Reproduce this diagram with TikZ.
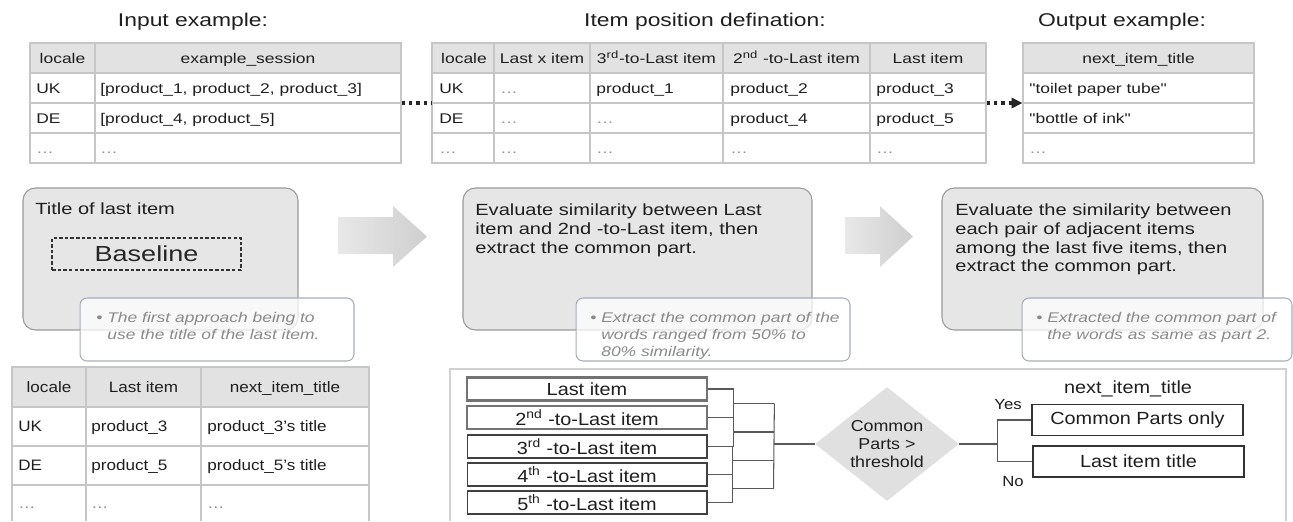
\documentclass[tikz,border=0pt]{standalone}
\usepackage{fontspec}
\setmainfont[FakeStretch=1.13]{Liberation Sans}
\newfontfamily\widefont[FakeStretch=1.24]{Liberation Sans}
\usetikzlibrary{shapes.geometric,arrows.meta,fit,calc}
\definecolor{hdrgray}{HTML}{E2E2E2}
\definecolor{gridgray}{HTML}{C6C6C6}
\definecolor{boxgray}{HTML}{E6E6E6}
\definecolor{edgegray}{HTML}{9A9A9A}
\definecolor{notegray}{HTML}{8A8A8A}
\definecolor{noteedge}{HTML}{A4AEBB}
\definecolor{inkgray}{HTML}{1E1E1E}

\begin{document}
\begin{tikzpicture}[x=0.02cm, y=-0.02cm,
		title/.style={font=\widefont\fontsize{10.5}{12}\selectfont, text=inkgray},
		cell/.style={font=\widefont\fontsize{8}{9.6}\selectfont, text=inkgray, inner sep=0, text height=1.5ex, text depth=.25ex},
		cellb/.style={cell, font=\fontsize{8.6}{10}\selectfont},
		dim/.style={text=black!45},
		grid/.style={draw=gridgray, line width=0.6pt},
		tbl/.style={inner sep=0, draw=gridgray, line width=0.6pt},
		dotl/.style={line width=2pt, dash pattern=on 2pt off 2.2pt, black!85},
		bigbox/.style={rectangle, rounded corners=7pt, draw=edgegray, fill=boxgray, line width=0.6pt, inner sep=0},
		note/.style={rectangle, rounded corners=4pt, draw=noteedge, fill=white, fill opacity=0.75, line width=0.6pt, inner sep=0, minimum height=1.26cm},
		notetext/.style={font=\widefont\fontsize{8}{9.6}\selectfont\itshape, text=notegray, align=left, anchor=north west, inner sep=0},
		boxtext/.style={font=\widefont\fontsize{9.2}{10.8}\selectfont, text=inkgray, align=left, anchor=north west, inner sep=0},
		dashbox/.style={rectangle, draw=black!80, dash pattern=on 2pt off 1.2pt, line width=0.6pt, minimum width=3.78cm, minimum height=0.64cm, font=\widefont\fontsize{12.4}{14}\selectfont, text=black!85},
		bigarrow/.style={left color=black!9, right color=black!19, draw=none},
		item/.style={rectangle, draw=black!75, line width=0.6pt, fill=white, minimum width=4.8cm, minimum height=0.46cm, inner sep=0, font=\fontsize{10}{12}\selectfont, text=inkgray},
		itemhl/.style={item, draw=black!55, line width=1.6pt},
		result/.style={rectangle, draw=black!80, line width=0.7pt, minimum width=4.22cm, minimum height=0.62cm, inner sep=0, font=\fontsize{10}{12}\selectfont, text=inkgray},
		dia/.style={diamond, fill=black!12, draw=none, minimum width=2.88cm, minimum height=2.28cm, inner sep=0},
		diatext/.style={font=\fontsize{9}{10.4}\selectfont, align=center, text=inkgray, inner sep=0},
		wire/.style={draw=black!65, line width=0.6pt},
		small/.style={font=\fontsize{8.4}{10}\selectfont, text=inkgray, inner sep=0}]
		\useasboundingbox (0,0) rectangle (1293,521);

		% top tables
		\node[title] (ti1) at (193,22) {Input example:};
		\node[title] (ti2) at (705,22) {Item position defination:};
		\node[title] (ti3) at (1122,22) {Output example:};

		\fill[hdrgray] (30,43) rectangle (401,73);
		\node[tbl, fit={(30,43) (401,163)}] (tin) {};
		\draw[grid] (30,73) -- (401,73) (30,103) -- (401,103) (30,133) -- (401,133) (95,43) -- (95,163);
		\node[cell] (in1) at (62.5,58) {locale};
		\node[cell] (in2) at (248,58) {example\_session};
		\node[cell, anchor=west] (in3) at (36,88) {UK};
		\node[cell, anchor=west] (in4) at (100,88) {[product\_1, product\_2, product\_3]};
		\node[cell, anchor=west] (in5) at (36,118) {DE};
		\node[cell, anchor=west] (in6) at (100,118) {[product\_4, product\_5]};
		\node[cell, anchor=west, dim] (in7) at (36,148) {\dots};
		\node[cell, anchor=west, dim] (in8) at (100,148) {\dots};

		\fill[hdrgray] (432,43) rectangle (986,73);
		\node[tbl, fit={(432,43) (986,163)}] (tpos) {};
		\draw[grid] (432,73) -- (986,73) (432,103) -- (986,103) (432,133) -- (986,133)
			(494,43) -- (494,163) (590,43) -- (590,163) (723,43) -- (723,163) (870,43) -- (870,163);
		\node[cell] (ps1) at (464,58) {locale};
		\node[cell] (ps2) at (542,58) {Last x item};
		\node[cell] (ps3) at (656.5,58) {3\textsuperscript{rd}-to-Last item};
		\node[cell] (ps4) at (796.5,58) {2\textsuperscript{nd} -to-Last item};
		\node[cell] (ps5) at (928,58) {Last item};
		\node[cell, anchor=west] (ps6) at (439,88) {UK};
		\node[cell, anchor=west, dim] (ps7) at (500,88) {\dots};
		\node[cell, anchor=west] (ps8) at (596,88) {product\_1};
		\node[cell, anchor=west] (ps9) at (730,88) {product\_2};
		\node[cell, anchor=west] (ps10) at (876,88) {product\_3};
		\node[cell, anchor=west] (ps11) at (439,118) {DE};
		\node[cell, anchor=west, dim] (ps12) at (500,118) {\dots};
		\node[cell, anchor=west, dim] (ps13) at (596,118) {\dots};
		\node[cell, anchor=west] (ps14) at (730,118) {product\_4};
		\node[cell, anchor=west] (ps15) at (876,118) {product\_5};
		\node[cell, anchor=west, dim] (ps16) at (439,148) {\dots};
		\node[cell, anchor=west, dim] (ps17) at (500,148) {\dots};
		\node[cell, anchor=west, dim] (ps18) at (596,148) {\dots};
		\node[cell, anchor=west, dim] (ps19) at (730,148) {\dots};
		\node[cell, anchor=west, dim] (ps20) at (876,148) {\dots};

		\fill[hdrgray] (1023,43) rectangle (1254,73);
		\node[tbl, fit={(1023,43) (1254,163)}] (tout) {};
		\draw[grid] (1023,73) -- (1254,73) (1023,103) -- (1254,103) (1023,133) -- (1254,133);
		\node[cell] (ou1) at (1138.5,58) {next\_item\_title};
		\node[cell, anchor=west] (ou2) at (1029,88) {\symbol{34}toilet paper tube\symbol{34}};
		\node[cell, anchor=west] (ou3) at (1029,118) {\symbol{34}bottle of ink\symbol{34}};
		\node[cell, anchor=west, dim] (ou4) at (1029,148) {\dots};

		\path (tin) edge[dotl] (tpos);
		\path (tpos) edge[dotl, -{Triangle[length=6.2pt, width=5.8pt]}] (tout);

		% three approaches
		\node[bigbox, fit={(23,188) (298,330)}] (b1) {};
		\node[boxtext, anchor=west] (b1t) at (35,209) {Title of last item};
		\node[dashbox] (base) at (146.5,254) {Baseline};
		\node[note, minimum width=5.48cm] (n1) at (217,329.5) {};
		\node[notetext] (n1t) at (107,312) {\llap{•\ }The first approach being to\\use the title of the last item.};

		\shade[bigarrow] (338,217) -- (393,217) -- (393,206) -- (427,236.5) -- (393,267) -- (393,254) -- (338,254) -- cycle;

		\node[bigbox, fit={(463,188) (812,330)}] (b2) {};
		\node[boxtext] (b2t) at (475,203) {Evaluate similarity between Last\\item and 2nd -to-Last item, then\\extract the common part.};
		\node[note, minimum width=5.48cm] (n2) at (713,329.5) {};
		\node[notetext] (n2t) at (601,312) {\llap{•\ }Extract the common part of the\\words ranged from 50\% to\\80\% similarity.};

		\shade[bigarrow] (845,217) -- (880,217) -- (880,206) -- (913,236.5) -- (880,267) -- (880,254) -- (845,254) -- cycle;

		\node[bigbox, fit={(942,188) (1263,330)}] (b3) {};
		\node[boxtext] (b3t) at (955,203) {Evaluate the similarity between\\each pair of adjacent items\\among the last five items, then\\extract the common part.};
		\node[note, minimum width=5.4cm] (n3) at (1157,329.5) {};
		\node[notetext] (n3t) at (1047,312) {\llap{•\ }Extracted the common part of\\the words as same as part 2.};

		% baseline result table
		\fill[hdrgray] (12,367) rectangle (369,407);
		\draw[grid] (12,521) -- (12,367) -- (369,367) -- (369,521);
		\draw[grid] (12,407) -- (369,407) (12,446) -- (369,446) (12,485) -- (369,485) (86,367) -- (86,521) (201,367) -- (201,521);
		\node[cellb] (bl1) at (49,387) {locale};
		\node[cellb] (bl2) at (143.5,387) {Last item};
		\node[cellb] (bl3) at (285,387) {next\_item\_title};
		\node[cellb, anchor=west] (bl4) at (18,426) {UK};
		\node[cellb, anchor=west] (bl5) at (91,426) {product\_3};
		\node[cellb, anchor=west] (bl6) at (207,426) {product\_3’s title};
		\node[cellb, anchor=west] (bl7) at (18,465) {DE};
		\node[cellb, anchor=west] (bl8) at (91,465) {product\_5};
		\node[cellb, anchor=west] (bl9) at (207,465) {product\_5’s title};
		\node[cellb, anchor=west, dim] (bl10) at (18,503) {\dots};
		\node[cellb, anchor=west, dim] (bl11) at (91,503) {\dots};
		\node[cellb, anchor=west, dim] (bl12) at (207,503) {\dots};

		% pairwise flow
		\draw[draw=black!18, line width=0.7pt] (450,521) -- (450,369) -- (1286,369) -- (1286,521);
		\node[itemhl] (l1) at (587,389) {Last item};
		\node[itemhl] (l2) at (587,417.5) {2\textsuperscript{nd} -to-Last item};
		\node[item] (l3) at (587,446.5) {3\textsuperscript{rd} -to-Last item};
		\node[item] (l4) at (587,474.5) {4\textsuperscript{th} -to-Last item};
		\node[item] (l5) at (587,502.5) {5\textsuperscript{th} -to-Last item};

		\draw[wire] (l1.east) -- ++(25,0) |- (l2.east);
		\draw[wire] (l2.east) -- ++(25,0) |- (l3.east);
		\draw[wire] (l3.east) -- ++(25,0) |- (l4.east);
		\draw[wire] (l4.east) -- ++(25,0) |- (l5.east);
		\coordinate (j1) at ($(l1.east)!.5!(l2.east)+(25,0)$);
		\coordinate (j2) at ($(l2.east)!.5!(l3.east)+(25,0)$);
		\coordinate (j3) at ($(l3.east)!.5!(l4.east)+(25,0)$);
		\coordinate (j4) at ($(l4.east)!.5!(l5.east)+(25,0)$);
		\draw[wire] (j1) -- ++(41,0) coordinate (k1);
		\draw[wire] (j2) -- ++(41,0) coordinate (k2);
		\draw[wire] (j3) -- ++(41,0) coordinate (k3);
		\draw[wire] (j4) -- ++(41,0) coordinate (k4);
		\draw[wire] (k1) -- (k4);

		\node[dia] (dia) at (887,444) {};
		\node[diatext] (dt) at (dia) {Common\\Parts >\\threshold};
		\draw[wire] (dia.west) -- (dia.west -| k1);

		\node[font=\fontsize{10}{12}\selectfont, text=inkgray] (nt) at (1128,389) {next\_item\_title};
		\node[result] (cp) at (1137.5,420) {Common Parts only};
		\node[result] (lt) at (1138.5,461.5) {Last item title};
		\draw[wire] (dia.east) -- ++(38,0) coordinate (sp);
		\draw[wire] (sp) |- (cp.west);
		\draw[wire] (sp) |- (lt.west);
		\node[small] (yes) at (1008,404) {Yes};
		\node[small] (no) at (1013,481) {No};
\end{tikzpicture}
\end{document}
